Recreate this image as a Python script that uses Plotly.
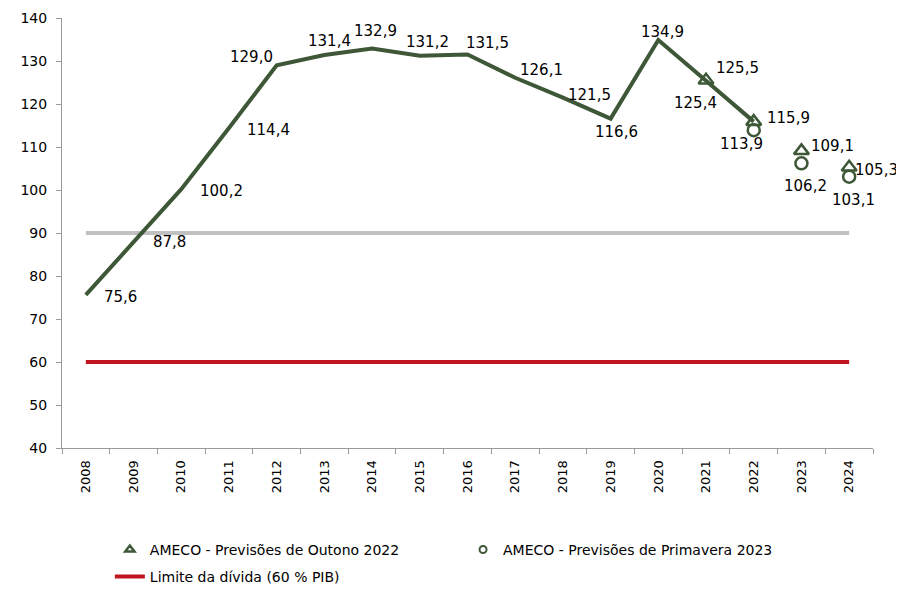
import plotly.graph_objects as go

GREEN = '#3d5737'
RED = '#c0141e'
GREY = '#c0c0c0'
AXIS = '#9a9a9a'

years = [str(y) for y in range(2008, 2025)]

# observed debt ratio (% of GDP)
line_years = [str(y) for y in range(2008, 2023)]
line_values = [75.6, 87.8, 100.2, 114.4, 129.0, 131.4, 132.9, 131.2, 131.5,
               126.1, 121.5, 116.6, 134.9, 125.4, 115.9]

# forecasts
outono_years = ['2021', '2022', '2023', '2024']
outono_values = [125.5, 115.9, 109.1, 105.3]
primavera_years = ['2022', '2023', '2024']
primavera_values = [113.9, 106.2, 103.1]

ref_90 = [90] * len(years)
limite = [60] * len(years)

# label offsets in pixels (dx right, dy down), one per labelled point
line_label_offsets = [(35, 2), (36, 0), (40, 2), (40, 2), (-25, -8), (5, -14),
                      (3, -18), (8, -14), (20, -12), (26, -8), (27, -3),
                      (6, 13), (4, -8), (-11, 22), None]
outono_label_offsets = [(31, -12), (35, -4), (31, -5), (27, 3)]
primavera_label_offsets = [(-12, 14), (4, 23), (4, 23)]


def fmt(v):
    return f'{v:.1f}'.replace('.', ',')


fig = go.Figure()

fig.add_trace(go.Scatter(
    x=years, y=ref_90, mode='lines',
    line=dict(color=GREY, width=4), showlegend=False, hoverinfo='skip'
))
fig.add_trace(go.Scatter(
    x=years, y=limite, mode='lines', name='Limite da dívida (60 % PIB)',
    line=dict(color=RED, width=4), legend='legend2'
))
fig.add_trace(go.Scatter(
    x=line_years, y=line_values, mode='lines',
    line=dict(color=GREEN, width=4), showlegend=False
))
fig.add_trace(go.Scatter(
    x=outono_years, y=outono_values, mode='markers', showlegend=False,
    marker=dict(symbol='triangle-up-open', size=13, color=GREEN,
                line=dict(width=2.5, color=GREEN))
))
fig.add_trace(go.Scatter(
    x=primavera_years, y=primavera_values, mode='markers', showlegend=False,
    marker=dict(symbol='circle-open', size=12, color=GREEN,
                line=dict(width=2.5, color=GREEN))
))

# legend-only entries with the small symbols of the reference legend
fig.add_trace(go.Scatter(
    x=[None], y=[None], mode='markers', name='AMECO - Previsões de Outono 2022',
    marker=dict(symbol='triangle-up-open', size=8, color=GREEN,
                line=dict(width=2.5, color=GREEN))
))
fig.add_trace(go.Scatter(
    x=[None], y=[None], mode='markers', name='AMECO - Previsões de Primavera 2023',
    legend='legend3',
    marker=dict(symbol='circle-open', size=7, color=GREEN,
                line=dict(width=2, color=GREEN))
))

# data labels (category axis needs the index, '2008' would be read as a position)
labels = []
for xs, ys, offs in [(line_years, line_values, line_label_offsets),
                     (outono_years, outono_values, outono_label_offsets),
                     (primavera_years, primavera_values, primavera_label_offsets)]:
    for x, y, off in zip(xs, ys, offs):
        if off is None:
            continue
        labels.append(dict(
            x=years.index(x), y=y, xref='x', yref='y', text=fmt(y),
            showarrow=False, xshift=off[0], yshift=-off[1],
            font=dict(size=15, color='black')
        ))

legend_style = dict(orientation='h', xanchor='left', yanchor='middle',
                    font=dict(size=14), itemsizing='trace',
                    bgcolor='rgba(0,0,0,0)')

fig.update_layout(
    annotations=labels,
    width=896, height=576,
    margin=dict(l=54, r=31, t=10, b=136, autoexpand=False),
    paper_bgcolor='white',
    plot_bgcolor='white',
    font=dict(family='DejaVu Sans', size=14, color='black'),
    legend=dict(x=0.059, y=-0.237, **legend_style),
    legend2=dict(x=0.059, y=-0.300, **legend_style),
    legend3=dict(x=0.4945, y=-0.237, **legend_style),
)

fig.update_xaxes(
    type='category', categoryorder='array', categoryarray=years,
    range=[-0.5, 16.5],
    showline=True, linecolor=AXIS, linewidth=1,
    ticks='outside', tickson='boundaries', ticklen=5, tickcolor=AXIS,
    tickangle=-90, showgrid=False, zeroline=False,
    ticklabelstandoff=6,
    tickfont=dict(size=13)
)

fig.update_yaxes(
    range=[40, 140], dtick=10,
    showline=True, linecolor=AXIS, linewidth=1,
    ticks='outside', ticklen=5, tickcolor=AXIS,
    showgrid=False, zeroline=False,
    ticklabelstandoff=6,
    tickfont=dict(size=14)
)

fig.write_html("out.html")
